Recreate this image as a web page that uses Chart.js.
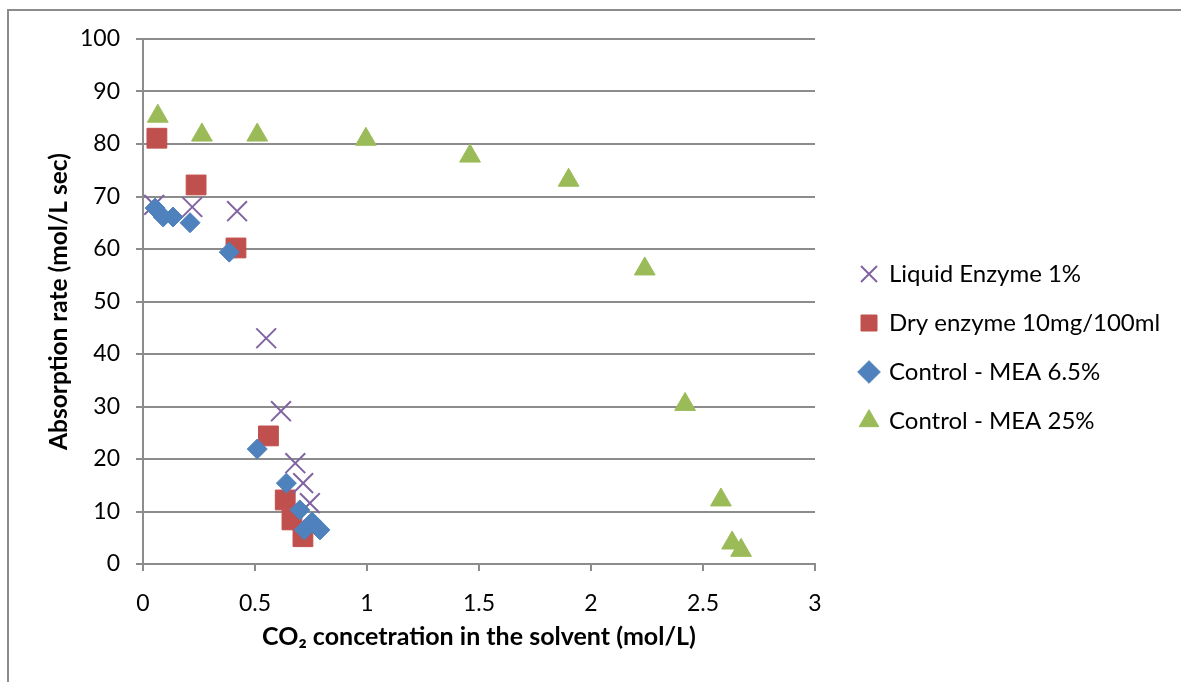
<!DOCTYPE html>
<html>
<head>
<meta charset="utf-8">
<script src="https://cdn.jsdelivr.net/npm/chart.js@4.4.1/dist/chart.umd.min.js"></script>
<style>
  html, body { margin: 0; padding: 0; background: #fff; }
  #wrap { position: relative; width: 1181px; height: 682px; overflow: hidden; }
  #frame { position: absolute; left: 7px; top: 9px; width: 1200px; height: 700px; border: 2px solid #8c8c8c; box-sizing: border-box; }
  canvas { position: absolute; left: 0; top: 0; }
</style>
</head>
<body>
<div id="wrap">
  <div id="frame"></div>
  <canvas id="chart" width="1181" height="682"></canvas>
</div>
<script>
// --- Dados ---
const seriesNames = ['Liquid Enzyme 1%', 'Dry enzyme 10mg/100ml', 'Control - MEA 6.5%', 'Control - MEA 25%'];

const liquidX = [0.05, 0.22, 0.42, 0.55, 0.616, 0.68, 0.715, 0.745];
const liquidY = [68.4, 68.0, 67.2, 43.0, 29.1, 19.2, 15.4, 11.6];

const dryX = [0.062, 0.237, 0.415, 0.56, 0.635, 0.665, 0.714];
const dryY = [81.1, 72.2, 60.2, 24.4, 12.2, 8.4, 5.2];

const mea65X = [0.054, 0.09, 0.134, 0.21, 0.385, 0.51, 0.64, 0.70, 0.755, 0.72, 0.79];
const mea65Y = [67.8, 66.1, 66.1, 65.0, 59.4, 21.9, 15.4, 10.3, 8.0, 6.5, 6.5];

const mea25X = [0.066, 0.263, 0.51, 0.995, 1.46, 1.90, 2.24, 2.42, 2.58, 2.63, 2.67];
const mea25Y = [85.3, 81.7, 81.7, 80.9, 77.7, 73.1, 56.2, 30.4, 12.2, 4.0, 2.6];

const xTicks = [0, 0.5, 1, 1.5, 2, 2.5, 3];
const yTicks = [0, 10, 20, 30, 40, 50, 60, 70, 80, 90, 100];

const FONT = 'Lato, "Open Sans", sans-serif';
const GRID = '#8c8c8c';
const LEGEND_W = 330;

function pts(xs, ys) {
    return xs.map((x, i) => ({ x: x, y: ys[i] }));
}

// A legenda da direita é limitada pelo layout a uma largura pequena; aqui fixamos a largura
const legendWidthPlugin = {
    id: 'legendWidth',
    beforeLayout(chart) {
        const lg = chart.legend;
        if (lg && !lg._fixedWidth) {
            const fit = lg.fit.bind(lg);
            lg.fit = function () {
                this.maxWidth = LEGEND_W;
                fit();
                this.width = LEGEND_W;
            };
            lg._fixedWidth = true;
        }
    }
};

const ctx = document.getElementById('chart').getContext('2d');

new Chart(ctx, {
    type: 'scatter',
    data: {
        datasets: [{
            label: seriesNames[0],
            data: pts(liquidX, liquidY),
            pointStyle: 'crossRot',
            pointRadius: 14,
            borderColor: '#8064A2',
            backgroundColor: '#8064A2',
            borderWidth: 2,
            order: 2
        }, {
            label: seriesNames[1],
            data: pts(dryX, dryY),
            pointStyle: 'rect',
            pointRadius: 14,
            borderColor: '#C0504D',
            backgroundColor: '#C0504D',
            borderWidth: 1,
            order: 3
        }, {
            label: seriesNames[2],
            data: pts(mea65X, mea65Y),
            pointStyle: 'rectRot',
            pointRadius: 10,
            borderColor: '#4F81BD',
            backgroundColor: '#4F81BD',
            borderWidth: 1,
            order: 1
        }, {
            label: seriesNames[3],
            data: pts(mea25X, mea25Y),
            pointStyle: 'triangle',
            pointRadius: 12,
            borderColor: '#9BBB59',
            backgroundColor: '#9BBB59',
            borderWidth: 1,
            order: 4
        }]
    },
    plugins: [legendWidthPlugin],
    options: {
        responsive: false,
        animation: false,
        layout: { padding: { left: 40, top: 39, right: 15, bottom: 26 } },
        plugins: {
            tooltip: { enabled: false },
            legend: {
                position: 'right',
                labels: {
                    usePointStyle: true,
                    boxWidth: 16,
                    boxHeight: 16,
                    padding: 25,
                    color: '#000',
                    font: { family: FONT, size: 24 },
                    sort: (a, b) => a.datasetIndex - b.datasetIndex
                }
            }
        },
        scales: {
            x: {
                type: 'linear',
                min: 0,
                max: 3,
                afterBuildTicks: s => { s.ticks = xTicks.map(v => ({ value: v })); },
                afterFit: s => { s.height = 92; },
                grid: { drawOnChartArea: false, drawTicks: true, tickLength: 7, color: GRID, lineWidth: 2 },
                border: { color: GRID, width: 2 },
                ticks: {
                    color: '#000',
                    padding: 19,
                    font: { family: FONT, size: 23 },
                    callback: v => String(v)
                },
                title: {
                    display: true,
                    text: 'CO\u2082 concetration in the solvent (mol/L)',
                    color: '#000',
                    padding: 4,
                    font: { family: FONT, size: 25, weight: 'bold' }
                }
            },
            y: {
                min: 0,
                max: 100,
                afterBuildTicks: s => { s.ticks = yTicks.map(v => ({ value: v })); },
                afterFit: s => { s.width = 103; },
                grid: { tickLength: 7, color: GRID, lineWidth: 2 },
                border: { color: GRID, width: 2 },
                ticks: { color: '#000', padding: 16, font: { family: FONT, size: 23 } },
                title: {
                    display: true,
                    text: 'Absorption rate (mol/L sec)',
                    color: '#000',
                    padding: 4,
                    font: { family: FONT, size: 24.5, weight: 'bold' }
                }
            },
            // eixo vazio só para abrir espaço entre a área do gráfico e a legenda
            gap: {
                type: 'linear',
                position: 'right',
                display: true,
                grid: { display: false },
                border: { display: false },
                ticks: { display: false },
                afterFit: s => { s.width = 21; }
            }
        }
    }
});
</script>
</body>
</html>
